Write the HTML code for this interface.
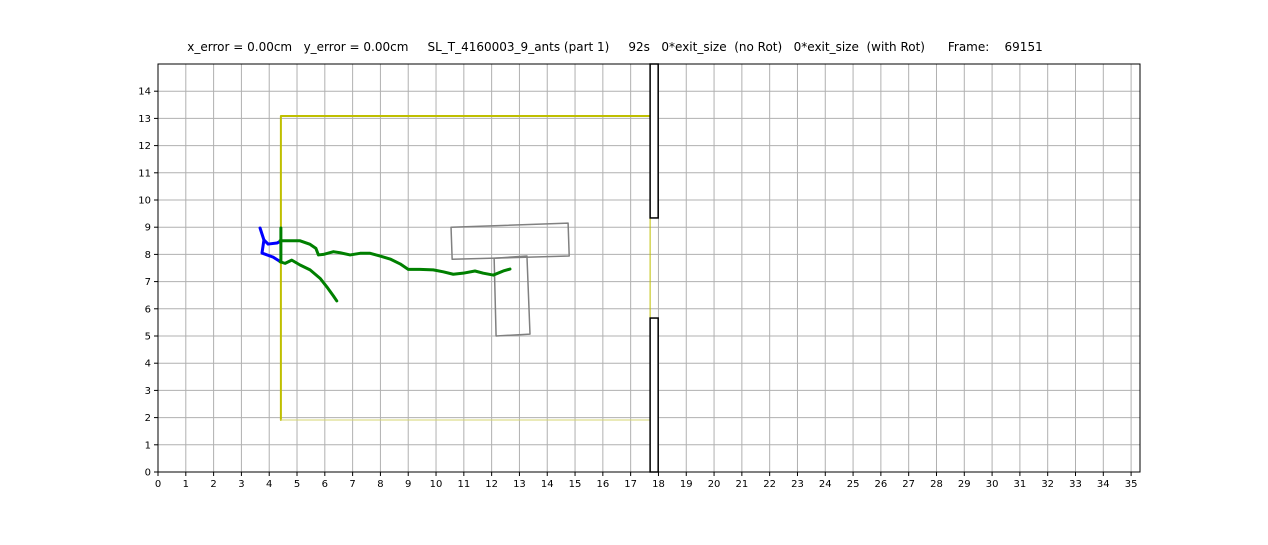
<!DOCTYPE html>
<html><head><meta charset="utf-8"><style>
body{margin:0;background:#fff;}
svg text{font-family:"DejaVu Sans","Liberation Sans",sans-serif;}
</style></head><body>
<svg id="chart" width="1268" height="540" xmlns="http://www.w3.org/2000/svg">
<text x="615" y="51" text-anchor="middle" font-size="12" xml:space="preserve">x_error = 0.00cm   y_error = 0.00cm     SL_T_4160003_9_ants (part 1)     92s   0*exit_size  (no Rot)   0*exit_size  (with Rot)      Frame:    69151</text>
<g id="grid"></g><g id="marks"></g><g id="axes"></g>
</svg>
<script>
const xTicks=[...Array(36).keys()];
const yTicks=[...Array(15).keys()];
const blueA_x=[3.67,3.81,3.96,4.28,4.42];
const blueA_y=[8.97,8.53,8.38,8.42,8.49];
const blueB_x=[3.81,3.74,4.14,4.42];
const blueB_y=[8.53,8.05,7.90,7.72];
const greenUp_x=[4.39,5.11,5.47,5.68,5.77,5.95,6.31,6.55,6.91,7.27,7.63,7.99,8.35,8.71,9.00,9.42,9.90,10.26,10.62,10.98,11.40,11.70,12.06,12.42,12.66];
const greenUp_y=[8.50,8.50,8.37,8.22,7.98,8.00,8.10,8.06,7.98,8.04,8.04,7.94,7.83,7.65,7.45,7.45,7.43,7.36,7.27,7.31,7.39,7.31,7.24,7.39,7.46];
const greenLow_x=[4.39,4.57,4.81,5.11,5.47,5.83,6.07,6.31,6.43];
const greenLow_y=[7.73,7.67,7.79,7.61,7.43,7.12,6.81,6.47,6.29];
const greenV_x=[4.42,4.42];
const greenV_y=[8.97,7.72];
const tTop_x=[10.54,14.75,14.79,10.58];
const tTop_y=[8.999,9.15,7.94,7.82];
const tStem_x=[12.09,13.27,13.38,12.16];
const tStem_y=[7.86,7.94,5.07,5.00];
const boundary_x=[17.7,4.42,4.42,17.7];
const boundary_y=[13.09,13.09,1.91,1.91];
const wallX=[17.70,17.99];
const wallTop=[9.34,15];
const wallBot=[0,5.66];
const X0=158,X1=1140,Y0=472,Y1=64,XMAX=35.32,YMAX=15.0;
const sx=v=>X0+v*(X1-X0)/XMAX, sy=v=>Y0-v*(Y0-Y1)/YMAX;
const NS="http://www.w3.org/2000/svg";
function mk(p,t,a){const e=document.createElementNS(NS,t);for(const k in a)e.setAttribute(k,a[k]);p.appendChild(e);return e;}
const grid=document.getElementById('grid'),marks=document.getElementById('marks'),axes=document.getElementById('axes');
xTicks.forEach(t=>{const l=mk(grid,'line',{x1:sx(t),x2:sx(t),y1:Y1,y2:Y0,stroke:'#b0b0b0','stroke-width':1});


const tk=mk(axes,'line',{x1:sx(t),x2:sx(t),y1:Y0,y2:Y0+4,stroke:'#000'});


const tx=mk(axes,'text',{x:sx(t),y:Y0+15,'text-anchor':'middle','font-size':10});tx.textContent=t;

});
yTicks.forEach(t=>{const l=mk(grid,'line',{x1:X0,x2:X1,y1:sy(t),y2:sy(t),stroke:'#b0b0b0','stroke-width':1});


const tk=mk(axes,'line',{x1:X0-4,x2:X0,y1:sy(t),y2:sy(t),stroke:'#000'});


const tx=mk(axes,'text',{x:X0-7,y:sy(t)+3.5,'text-anchor':'end','font-size':10});tx.textContent=t;

});
function poly(xs,ys,color,w,close,name){const pts=xs.map((x,i)=>sx(x)+','+sy(ys[i])).join(' ');
const e=mk(marks,close?'polygon':'polyline',{points:pts,fill:'none',stroke:color,'stroke-width':w,'stroke-linejoin':'round','stroke-linecap':'round'});

}
poly(boundary_x.slice(0,3),boundary_y.slice(0,3),'#bfbf00',2,false,'boundary-line');
poly(boundary_x.slice(2),boundary_y.slice(2),'#d4d470',1,false,'boundary-bottom');
poly([wallX[0],wallX[0]],[wallBot[1],wallTop[0]],'#bfbf00',1,false,'exit-line');
poly(tTop_x,tTop_y,'#808080',1.5,true,'t-shape-top');
poly(tStem_x,tStem_y,'#808080',1.5,true,'t-shape-stem');
poly(blueA_x,blueA_y,'#0000ff',3,false,'blue-trajectory-a');
poly(blueB_x,blueB_y,'#0000ff',3,false,'blue-trajectory-b');
poly(greenV_x,greenV_y,'#008000',3,false,'green-trajectory-vertical');
poly(greenUp_x,greenUp_y,'#008000',3,false,'green-trajectory-upper');
poly(greenLow_x,greenLow_y,'#008000',3,false,'green-trajectory-lower');
[[wallTop,'wall-top'],[wallBot,'wall-bottom']].forEach(([w,n])=>{const r=mk(marks,'rect',{x:sx(wallX[0]),y:sy(w[1]),width:sx(wallX[1])-sx(wallX[0]),height:sy(w[0])-sy(w[1]),fill:'#fff',stroke:'#000','stroke-width':1.5});

});
const fr=mk(axes,'rect',{x:X0,y:Y1,width:X1-X0,height:Y0-Y1,fill:'none',stroke:'#000','stroke-width':1});


</script>
</body></html>
